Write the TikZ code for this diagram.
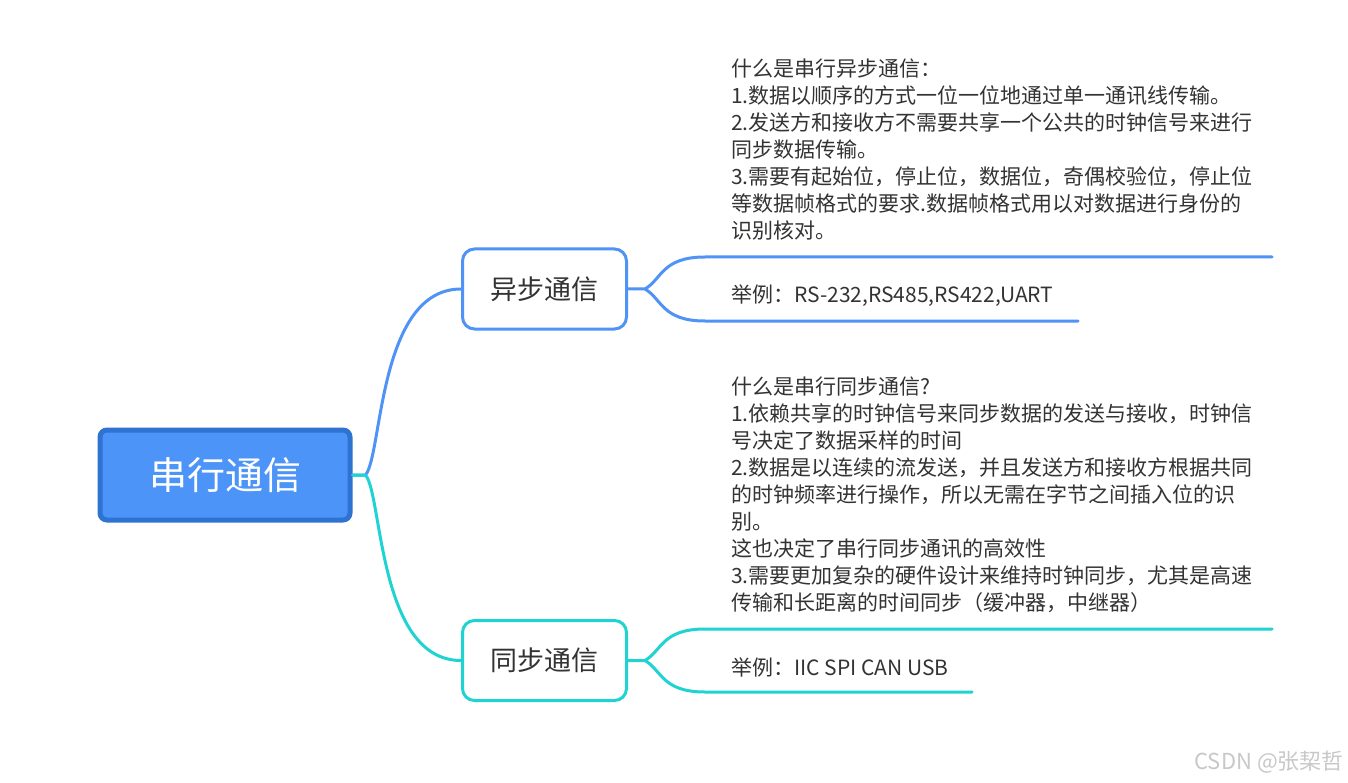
\documentclass[tikz,border=0pt]{standalone}
\usepackage{fontspec}
\setmainfont{Noto Sans CJK SC}
\usetikzlibrary{positioning}
\definecolor{mapBlue}{HTML}{4D94F9}
\definecolor{mapBlueDark}{HTML}{2E72D2}
\definecolor{mapLine}{HTML}{4F93F7}
\definecolor{mapTeal}{HTML}{1ED3D2}
\definecolor{mapInk}{HTML}{333333}
\definecolor{mapMark}{HTML}{C8C8C8}

\begin{document}
\begin{tikzpicture}[x=1pt,y=-1pt,line cap=round,line join=round]
\path[fill=white] (0,0) rectangle (1348,783);
\tikzset{root/.style={draw=mapBlueDark,fill=mapBlue,line width=5pt,rounded corners=7pt,minimum width=250pt,minimum height=90pt,text=white,font=\fontsize{38}{40}\selectfont},topic/.style={fill=white,line width=3pt,rounded corners=12pt,minimum width=164pt,minimum height=80pt,text=mapInk,font=\fontsize{27}{30}\selectfont},note/.style={anchor=west,inner sep=0pt,align=left,text=mapInk,font=\fontsize{21}{27}\selectfont},blueline/.style={draw=mapLine,line width=3pt},tealline/.style={draw=mapTeal,line width=3pt}}
\node[root] (root) at (225,475) {串行通信};
\node[topic,draw=mapLine] (async) at (544.5,289) {\raisebox{-2pt}{异步通信}};
\node[topic,draw=mapTeal] (sync) at (544.5,660.5) {\raisebox{-2pt}{同步通信}};
\node[note] (asyncText) at (731,150) {什么是串行异步通信：\\1.数据以顺序的方式一位一位地通过单一通讯线传输。\\2.发送方和接收方不需要共享一个公共的时钟信号来进行\\同步数据传输。\\3.需要有起始位，停止位，数据位，奇偶校验位，停止位\\等数据帧格式的要求.数据帧格式用以对数据进行身份的\\识别核对。};
\node[note] (asyncEx) at (731,296) {举例：RS-232,RS485,RS422,UART};
\node[note] (syncText) at (731,494.5) {什么是串行同步通信?\\1.依赖共享的时钟信号来同步数据的发送与接收，时钟信\\号决定了数据采样的时间\\2.数据是以连续的流发送，并且发送方和接收方根据共同\\的时钟频率进行操作，所以无需在字节之间插入位的识\\别。\\这也决定了串行同步通讯的高效性\\3.需要更加复杂的硬件设计来维持时钟同步，尤其是高速\\传输和长距离的时间同步（缓冲器，中继器）};
\node[note] (syncEx) at (731,667) {举例：IIC SPI CAN USB};
\node[anchor=east,inner sep=0pt,text=mapMark,font=\fontsize{22}{24}\selectfont] (mark) at (1344,762) {CSDN @张栔哲};
% branches from the root
\draw[blueline] (root.east) -- ++(13,0) .. controls +(17,-20) and +(-83,0) .. (async.west);
\draw[tealline] (root.east) -- ++(13,0) .. controls +(17,20) and +(-83,0) .. (sync.west);
% async leaves
\coordinate (aTop) at (705,257); \coordinate (aTopEnd) at (1272,257);
\coordinate (aLow) at (705,321); \coordinate (aLowEnd) at (1078,321);
\draw[blueline] (async.east) -- ++(17,0) coordinate (aFork) .. controls +(17,-10) and +(-43,0) .. (aTop) -- (aTopEnd);
\draw[blueline] (aFork) .. controls +(17,10) and +(-43,0) .. (aLow) -- (aLowEnd);
% sync leaves
\coordinate (sTop) at (705,629); \coordinate (sTopEnd) at (1272,629);
\coordinate (sLow) at (705,692); \coordinate (sLowEnd) at (972,692);
\draw[tealline] (sync.east) -- ++(17,0) coordinate (sFork) .. controls +(17,-10) and +(-43,0) .. (sTop) -- (sTopEnd);
\draw[tealline] (sFork) .. controls +(17,10) and +(-43,0) .. (sLow) -- (sLowEnd);
\end{tikzpicture}
\end{document}
